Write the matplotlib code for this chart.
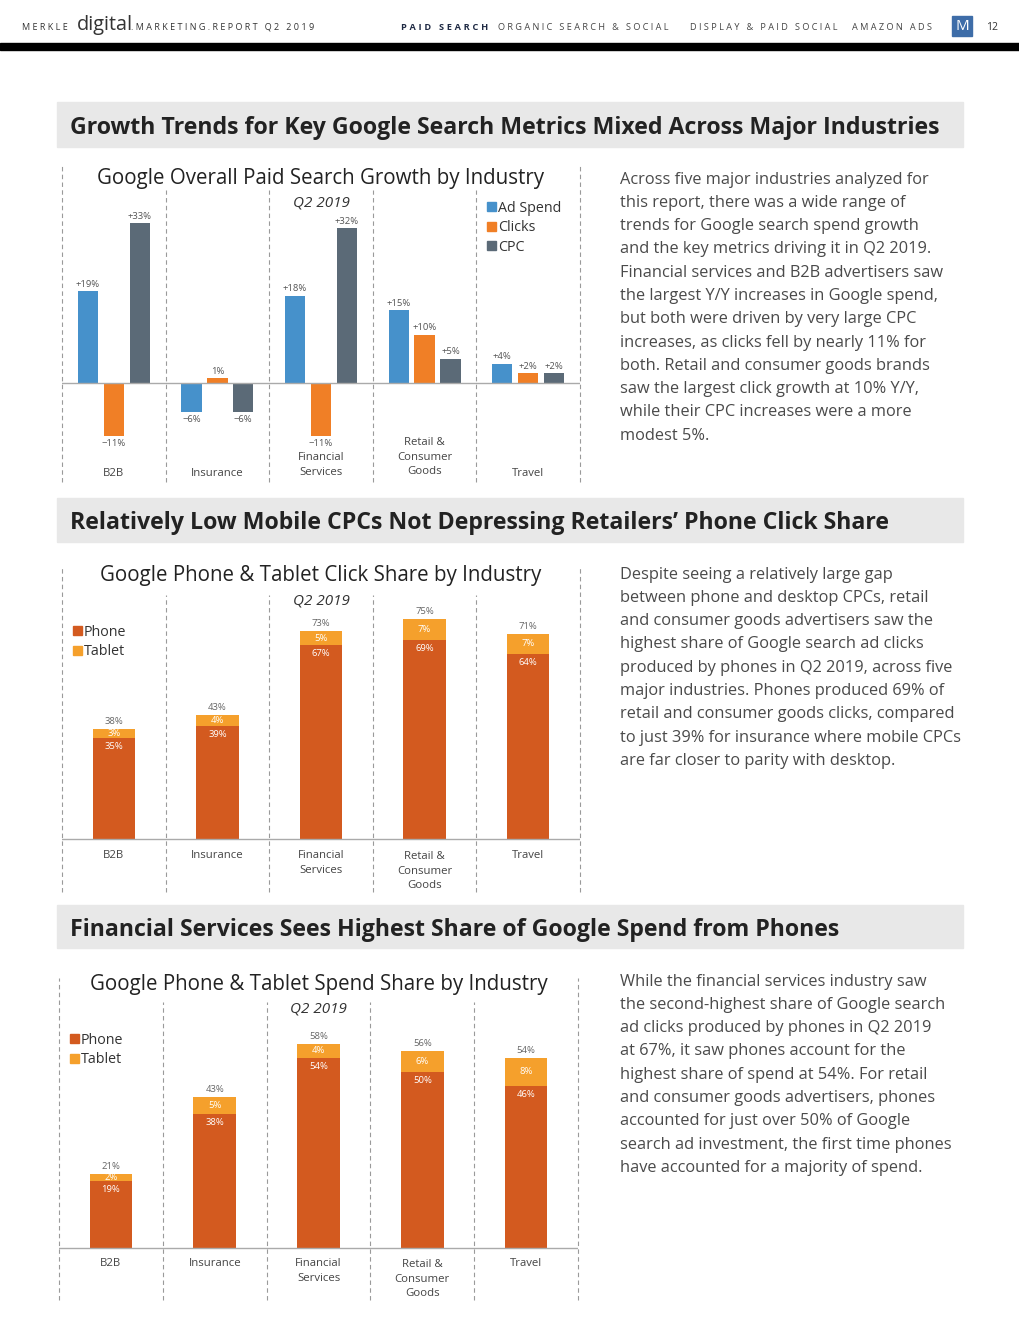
import numpy as np
import matplotlib
matplotlib.use("Agg")
import matplotlib.pyplot as plt
from matplotlib.patches import Rectangle, Patch

plt.rcParams["font.family"] = ["Open Sans", "DejaVu Sans"]

W, H = 1020, 1320

# ---- data ----------------------------------------------------------------
INDUSTRIES = ["B2B", "Insurance", "Financial\nServices", "Retail &\nConsumer\nGoods", "Travel"]

METRICS = ["Ad Spend", "Clicks", "CPC"]
AD_SPEND = [19, -6, 18, 15, 4]
CLICKS = [-11, 1, -11, 10, 2]
CPC = [33, -6, 32, 5, 2]
AD_SPEND_LBL = ["+19%", "\u22126%", "+18%", "+15%", "+4%"]
CLICKS_LBL = ["\u221211%", "1%", "\u221211%", "+10%", "+2%"]
CPC_LBL = ["+33%", "\u22126%", "+32%", "+5%", "+2%"]

CLICK_PHONE = [35, 39, 67, 69, 64]
CLICK_TABLET = [3, 4, 5, 7, 7]
CLICK_TOTAL = [38, 43, 73, 75, 71]

SPEND_PHONE = [19, 38, 54, 50, 46]
SPEND_TABLET = [2, 5, 4, 6, 8]
SPEND_TOTAL = [21, 43, 58, 56, 54]

C_BLUE, C_ORANGE, C_SLATE = "#4691CB", "#F07F26", "#5B6A77"
C_PHONE, C_TABLET = "#D35A1F", "#F5A02C"
TXT = "#4a4a4a"

fig = plt.figure(figsize=(W / 100, H / 100), dpi=100)


def fx(x):
    return x / W


def fy(y):
    return 1 - y / H


def spaced(s):
    # rough letter spacing for the header caps
    return "\u2009\u200a".join(s)


# ---- page header ---------------------------------------------------------
fig.text(fx(22), fy(27), spaced("MERKLE"), fontsize=6.5, color="#333", va="center")
fig.text(fx(77), fy(25), "digital", fontsize=14.3, color="#333", va="center")
fig.text(fx(131), fy(27), spaced(".MARKETING.REPORT Q2 2019"), fontsize=6.5, color="#333",
         va="center")
nav = [("PAID SEARCH", 401, "#1f2a44", "bold"), ("ORGANIC SEARCH & SOCIAL", 498, "#444", "normal"),
       ("DISPLAY & PAID SOCIAL", 690, "#444", "normal"), ("AMAZON ADS", 852, "#444", "normal")]
for s, xx, c, w in nav:
    fig.text(fx(xx), fy(27), spaced(s), fontsize=6.6, color=c, va="center", fontweight=w)
fig.add_artist(Rectangle((fx(952), fy(36)), 20 / W, 20 / H, transform=fig.transFigure,
                         color="#3E6DA8"))
fig.text(fx(962), fy(26), "M", fontsize=11, color="white", ha="center", va="center")
fig.text(fx(992), fy(27), "12", fontsize=7.5, color="#333", ha="center", va="center")
fig.add_artist(Rectangle((0, fy(50)), 1, 7 / H, transform=fig.transFigure, color="black"))

# ---- section bands -------------------------------------------------------
sections = [
    (102, 147, "Growth Trends for Key Google Search Metrics Mixed Across Major Industries"),
    (498, 542, "Relatively Low Mobile CPCs Not Depressing Retailers\u2019 Phone Click Share"),
    (905, 948, "Financial Services Sees Highest Share of Google Spend from Phones"),
]
for top, bot, title in sections:
    fig.add_artist(Rectangle((fx(57), fy(bot)), 906 / W, (bot - top) / H,
                             transform=fig.transFigure, color="#E8E8E8"))
    fig.text(fx(70), fy((top + bot) / 2 + 3), title, fontsize=16.7, fontweight="bold",
             color="#222", va="center")

# ---- paragraphs ----------------------------------------------------------
para1 = """Across five major industries analyzed for
this report, there was a wide range of
trends for Google search spend growth
and the key metrics driving it in Q2 2019.
Financial services and B2B advertisers saw
the largest Y/Y increases in Google spend,
but both were driven by very large CPC
increases, as clicks fell by nearly 11% for
both. Retail and consumer goods brands
saw the largest click growth at 10% Y/Y,
while their CPC increases were a more
modest 5%."""
para2 = """Despite seeing a relatively large gap
between phone and desktop CPCs, retail
and consumer goods advertisers saw the
highest share of Google search ad clicks
produced by phones in Q2 2019, across five
major industries. Phones produced 69% of
retail and consumer goods clicks, compared
to just 39% for insurance where mobile CPCs
are far closer to parity with desktop."""
para3 = """While the financial services industry saw
the second-highest share of Google search
ad clicks produced by phones in Q2 2019
at 67%, it saw phones account for the
highest share of spend at 54%. For retail
and consumer goods advertisers, phones
accounted for just over 50% of Google
search ad investment, the first time phones
have accounted for a majority of spend."""
for text, y0 in [(para1, 179.5), (para2, 574.5), (para3, 981.5)]:
    for i, line in enumerate(text.split("\n")):
        fig.text(fx(620), fy(y0 + i * 23.3), line, fontsize=11.8, color=TXT, va="center")


# ---- chart helpers -------------------------------------------------------
def chart_axes(left, right, top, bottom, zero, ppu):
    ax = fig.add_axes([fx(left), fy(bottom), (right - left) / W, (bottom - top) / H])
    ax.set_xlim(-0.5, 4.5)
    ax.set_ylim((zero - bottom) / ppu, (zero - top) / ppu)
    ax.axis("off")
    return ax, (lambda p: (zero - p) / ppu), ppu


def frame(ax, py, top_outer, top_inner, bottom, title, title_y, q_y):
    for xv in np.arange(-0.5, 5):
        t = top_outer if xv in (-0.5, 4.5) else top_inner
        ax.vlines(xv, py(bottom), py(t), colors="#9a9a9a", lw=0.8,
                  linestyles=(0, (4, 3)), clip_on=False)
    ax.axhline(0, color="#aaaaaa", lw=1.0)
    ax.text(2, py(title_y), title, fontsize=14.8, color="#222", ha="center", va="center")
    ax.text(2, py(q_y), "Q2 2019", fontsize=11, color="#333", ha="center", va="center",
            style="italic")


x = np.arange(len(INDUSTRIES))

# ---- chart 1: growth -----------------------------------------------------
ax1, py1, ppu1 = chart_axes(62, 580, 165, 482, 383, 4.84)
frame(ax1, py1, 165, 190, 482, "Google Overall Paid Search Growth by Industry", 178, 203)
for off, vals, lbls, col in [(-0.25, AD_SPEND, AD_SPEND_LBL, C_BLUE),
                             (0.0, CLICKS, CLICKS_LBL, C_ORANGE),
                             (0.25, CPC, CPC_LBL, C_SLATE)]:
    ax1.bar(x + off, vals, width=0.195, color=col)
    for xi, v, s in zip(x + off, vals, lbls):
        d = 2.5 / ppu1
        ax1.text(xi, v + d if v > 0 else v - d, s, fontsize=6.8, color="#555",
                 ha="center", va="bottom" if v > 0 else "top")
for xi, lab in zip(x, INDUSTRIES):
    n = lab.count("\n")
    ax1.text(xi, py1(473 - n * 8), lab, fontsize=8.2, color="#444", ha="center",
             va="center", linespacing=1.45)
ax1.legend(handles=[Patch(color=c) for c in (C_BLUE, C_ORANGE, C_SLATE)], labels=METRICS,
           loc="upper left", bbox_to_anchor=(fx(487), fy(201)), bbox_transform=fig.transFigure,
           frameon=False, fontsize=10.3, handlelength=0.6, handleheight=0.6,
           handletextpad=0.15, labelspacing=0.3, borderpad=0, borderaxespad=0,
           labelcolor="#333")


# ---- stacked share charts ------------------------------------------------
def share_chart(left, right, top, bottom, zero, ppu, tops, title, title_y, q_y,
                phone, tablet, total, label_y, legend_y):
    ax, py, ppu = chart_axes(left, right, top, bottom, zero, ppu)
    frame(ax, py, tops[0], tops[1], bottom, title, title_y, q_y)
    ax.bar(x, phone, width=0.41, color=C_PHONE)
    ax.bar(x, tablet, width=0.41, bottom=phone, color=C_TABLET)
    for xi, p, t, tot in zip(x, phone, tablet, total):
        ax.text(xi, p + t + 3 / ppu, f"{tot}%", fontsize=6.8, color="#666",
                ha="center", va="bottom")
        ax.text(xi, p + t / 2, f"{t}%", fontsize=6.8, color="white", ha="center", va="center")
        ax.text(xi, p - 4 / ppu, f"{p}%", fontsize=6.8, color="white", ha="center", va="top")
    for xi, lab in zip(x, INDUSTRIES):
        n = lab.count("\n")
        ax.text(xi, py(label_y + n * 8), lab, fontsize=8.2, color="#444", ha="center",
                va="center", linespacing=1.45)
    ax.legend(handles=[Patch(color=C_PHONE), Patch(color=C_TABLET)], labels=["Phone", "Tablet"],
              loc="upper left", bbox_to_anchor=(fx(left + 11), fy(legend_y)),
              bbox_transform=fig.transFigure, frameon=False, fontsize=10.3,
              handlelength=0.6, handleheight=0.6, handletextpad=0.15, labelspacing=0.3,
              borderpad=0, borderaxespad=0, labelcolor="#333")
    return ax


share_chart(62, 580, 565, 892, 839, 2.89, (568, 595),
            "Google Phone & Tablet Click Share by Industry", 576, 601,
            CLICK_PHONE, CLICK_TABLET, CLICK_TOTAL, 855, 625)
share_chart(59, 578, 975, 1300, 1248, 3.52, (978, 1002),
            "Google Phone & Tablet Spend Share by Industry", 984, 1009,
            SPEND_PHONE, SPEND_TABLET, SPEND_TOTAL, 1263, 1033)

fig.savefig("out.png", dpi=100)
